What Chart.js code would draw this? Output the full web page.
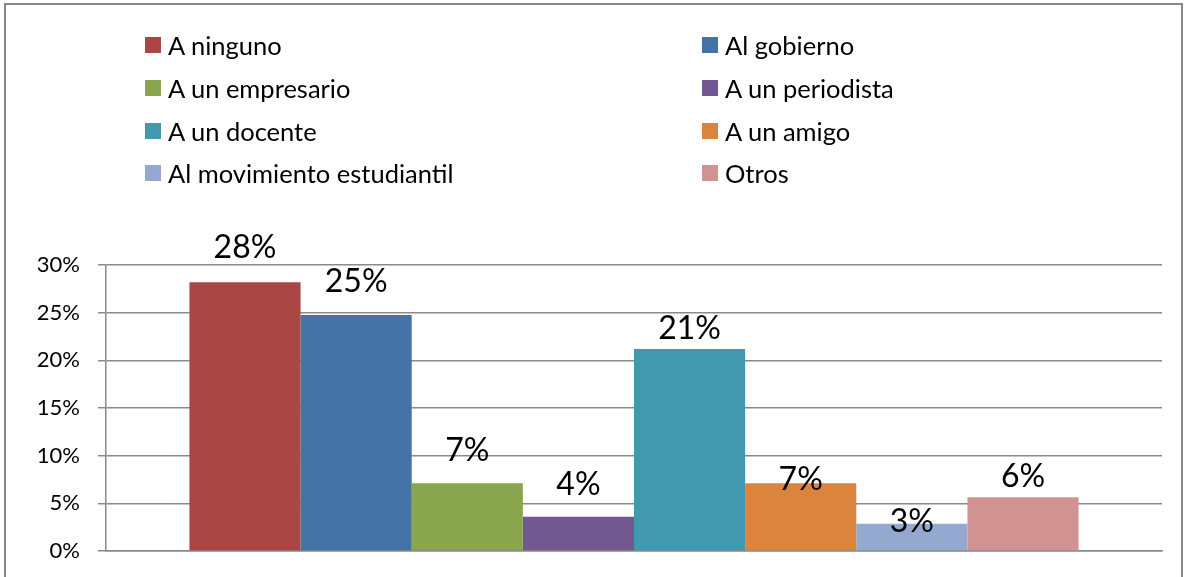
<!DOCTYPE html>
<html lang="es">
<head>
    <meta charset="UTF-8">
    <title>Respuestas</title>
    <script src="https://cdn.jsdelivr.net/npm/chart.js"></script>
    <style>
        body { margin: 0; background: #fff; font-family: Lato, "Noto Sans", sans-serif; }
        #frame { position: absolute; left: 4px; top: 3px; width: 1175px; height: 590px; border: 2px solid #878787; }
        #chart { position: absolute; left: 0; top: 0; }
        #legend { position: absolute; left: 145px; top: 24px; display: grid; grid-template-columns: 557px auto; grid-auto-rows: 42.7px; }
        .item { display: flex; align-items: center; font-size: 25.5px; color: #000; white-space: nowrap; }
        .box { width: 16px; height: 16px; margin-right: 7px; flex: none; }
    </style>
</head>
<body>
    <div id="frame"></div>
    <canvas id="chart" width="1185" height="577"></canvas>
    <div id="legend"></div>

    <script>
        // series (one bar each), values in percent
        const seriesNames = ["A ninguno", "Al gobierno", "A un empresario", "A un periodista",
                             "A un docente", "A un amigo", "Al movimiento estudiantil", "Otros"];
        const seriesValues = [28.2, 24.75, 7.1, 3.6, 21.2, 7.1, 2.85, 5.65];
        const seriesColors = ["#AA4644", "#4572A7", "#89A54E", "#71588F",
                              "#4198AF", "#DB843D", "#93A9CF", "#D19392"];
        const categories = [""];
        // how far above the bar top each value label sits (px)
        const labelLift = [34, 33, 33, 32, 20, 4, 2, 20];

        const gridColor = "#8a8a8a";

        // value labels drawn above each bar
        const valueLabels = {
            id: "valueLabels",
            afterDatasetsDraw(chart) {
                const ctx = chart.ctx;
                ctx.save();
                ctx.font = "32px Lato";
                ctx.fillStyle = "#000";
                ctx.textAlign = "center";
                ctx.textBaseline = "middle";
                chart.data.datasets.forEach((ds, i) => {
                    const bar = chart.getDatasetMeta(i).data[0];
                    ctx.fillText(Math.round(ds.data[0]) + "%", bar.x, bar.y - ds.labelLift);
                });
                ctx.restore();
            }
        };

        const datasets = seriesNames.map((name, i) => ({
            label: name,
            data: [seriesValues[i]],
            backgroundColor: seriesColors[i],
            borderWidth: 0,
            labelLift: labelLift[i]
        }));

        const chart = new Chart(document.getElementById("chart").getContext("2d"), {
            type: "bar",
            data: { labels: categories, datasets: datasets },
            options: {
                responsive: false,
                animation: false,
                layout: { padding: { left: 0, right: 23, top: 265, bottom: 26 } },
                datasets: { bar: { barPercentage: 1, categoryPercentage: 0.842 } },
                plugins: {
                    legend: { display: false },
                    tooltip: { enabled: false }
                },
                scales: {
                    x: {
                        ticks: { display: false },
                        grid: { display: false },
                        border: { display: true, color: gridColor, width: 1.5 },
                        afterFit(scale) { scale.height = 0; }
                    },
                    y: {
                        min: 0,
                        max: 30,
                        ticks: {
                            stepSize: 5,
                            padding: 18,
                            color: "#000",
                            font: { family: "Lato", size: 22 },
                            callback: v => v + "%"
                        },
                        grid: { color: gridColor, lineWidth: 1.5, tickLength: 8 },
                        border: { display: true, color: gridColor, width: 1.5 },
                        afterFit(scale) {
                            scale.width = 106;
                            scale.paddingTop = 0;
                            scale.paddingBottom = 0;
                        }
                    }
                }
            },
            plugins: [valueLabels]
        });

        // legend in two columns, like the original
        const legend = document.getElementById("legend");
        chart.data.datasets.forEach(ds => {
            const item = document.createElement("div");
            item.className = "item";
            const box = document.createElement("span");
            box.className = "box";
            box.style.background = ds.backgroundColor;
            item.appendChild(box);
            item.appendChild(document.createTextNode(ds.label));
            legend.appendChild(item);
        });
    </script>
</body>
</html>
